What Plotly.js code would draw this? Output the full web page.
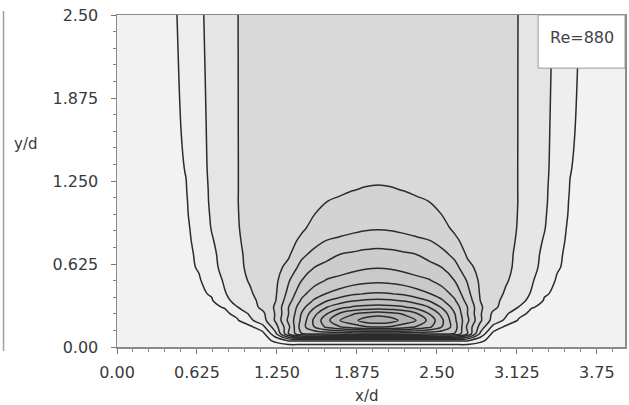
<!DOCTYPE html>
<html>
<head>
<meta charset="utf-8">
<script src="https://cdn.plot.ly/plotly-3.0.1.min.js"></script>
<style>html,body{margin:0;padding:0;background:#fff;}#chart{width:629px;height:405px;}</style>
</head>
<body>
<div id="chart"></div>
<script>
// grid positions (x/d, y/d)
const xNodes = [0,0.14,0.24,0.34,0.44,0.54,0.64,0.74,0.84,0.94,1.04,1.14,1.24,1.34,1.44,1.54,1.64,1.74,1.84,1.94,2.04,2.14,2.24,2.34,2.44,2.54,2.64,2.74,2.84,2.94,3.04,3.14,3.24,3.34,3.44,3.54,3.64,3.74,3.84,3.94,4.08];
const yNodes = [0,0.05,0.1,0.15,0.2,0.25,0.3,0.35,0.4,0.5,0.6,0.7,0.8,0.9,1.0,1.1,1.18,1.35,1.6,2.0,2.5];

// field values, one row per y/d
const zY000 = [0.3,0.3,0.3,0.3,0.3,0.3,0.3,0.3,0.3,0.3,0.3,0.3,0.3,0.3,0.3,0.3,0.3,0.3,0.3,0.3,0.3,0.3,0.3,0.3,0.3,0.3,0.3,0.3,0.3,0.3,0.3,0.3,0.3,0.3,0.3,0.3,0.3,0.3,0.3,0.3,0.3];
const zY005 = [0.4,0.4,0.4,0.4,0.4,0.4,0.4,0.41,0.42,0.43,0.45,0.5,1.3,2.15,2.2,2.2,2.2,2.2,2.2,2.2,2.2,2.2,2.2,2.2,2.2,2.2,2.2,2.15,1.3,0.5,0.45,0.43,0.42,0.41,0.4,0.4,0.4,0.4,0.4,0.4,0.4];
const zY010 = [0.44,0.44,0.45,0.45,0.46,0.47,0.48,0.49,0.5,0.52,0.55,0.7,2.8,5.98,7.95,8.2,8.3,8.4,8.45,8.5,8.5,8.5,8.45,8.4,8.3,8.2,7.95,5.98,2.8,0.7,0.55,0.52,0.5,0.49,0.48,0.47,0.46,0.45,0.45,0.44,0.44];
const zY015 = [0.46,0.47,0.48,0.49,0.5,0.51,0.53,0.55,0.58,0.62,0.75,1.7,3.6,5.75,8.5,9.98,11.2,11.9,12.5,12.85,12.95,12.85,12.5,11.9,11.2,9.98,8.5,5.75,3.6,1.7,0.75,0.62,0.58,0.55,0.53,0.51,0.5,0.49,0.48,0.47,0.46];
const zY020 = [0.48,0.5,0.52,0.54,0.56,0.58,0.61,0.65,0.7,0.9,1.8,2.6,4.15,6.2,8.2,10.2,11.7,12.98,13.6,14.5,14.8,14.5,13.6,12.98,11.7,10.2,8.2,6.2,4.15,2.6,1.8,0.9,0.7,0.65,0.61,0.58,0.56,0.54,0.52,0.5,0.48];
const zY025 = [0.5,0.52,0.55,0.57,0.6,0.63,0.67,0.72,0.8,1.25,2.15,2.8,4.1,5.98,8.02,9.7,10.98,12.15,12.9,13.35,13.6,13.35,12.9,12.15,10.98,9.7,8.02,5.98,4.1,2.8,2.15,1.25,0.8,0.72,0.67,0.63,0.6,0.57,0.55,0.52,0.5];
const zY030 = [0.51,0.54,0.57,0.61,0.65,0.7,0.76,0.85,1.05,1.98,2.55,3.25,4.15,5.98,7.6,8.88,9.98,10.65,11.1,11.3,11.4,11.3,11.1,10.65,9.98,8.88,7.6,5.98,4.15,3.25,2.55,1.98,1.05,0.85,0.76,0.7,0.65,0.61,0.57,0.54,0.51];
const zY035 = [0.52,0.55,0.58,0.62,0.67,0.72,0.8,0.92,1.75,2.3,2.72,3.3,3.98,5.6,7.1,8.1,8.93,9.45,9.9,10.12,10.2,10.12,9.9,9.45,8.93,8.1,7.1,5.6,3.98,3.3,2.72,2.3,1.75,0.92,0.8,0.72,0.67,0.62,0.58,0.55,0.52];
const zY040 = [0.52,0.55,0.59,0.63,0.68,0.74,0.85,1.08,1.93,2.4,2.85,3.5,3.9,5.3,6.7,7.5,8.05,8.45,8.85,9.05,9.1,9.05,8.85,8.45,8.05,7.5,6.7,5.3,3.9,3.5,2.85,2.4,1.93,1.08,0.85,0.74,0.68,0.63,0.59,0.55,0.52];
const zY050 = [0.52,0.56,0.6,0.64,0.69,0.75,0.9,1.5,2.1,2.6,3.1,3.55,3.8,4.9,5.98,6.6,7.08,7.3,7.52,7.72,7.8,7.72,7.52,7.3,7.08,6.6,5.98,4.9,3.8,3.55,3.1,2.6,2.1,1.5,0.9,0.75,0.69,0.64,0.6,0.56,0.52];
const zY060 = [0.52,0.56,0.6,0.65,0.7,0.78,1.08,1.78,2.22,2.72,3.25,3.55,3.72,4.25,5.35,5.99,6.26,6.5,6.72,6.88,6.94,6.88,6.72,6.5,6.26,5.99,5.35,4.25,3.72,3.55,3.25,2.72,2.22,1.78,1.08,0.78,0.7,0.65,0.6,0.56,0.52];
const zY070 = [0.52,0.56,0.6,0.66,0.72,0.8,1.15,1.82,2.3,2.78,3.28,3.52,3.66,3.86,4.7,5.3,5.7,5.99,6.12,6.25,6.31,6.25,6.12,5.99,5.7,5.3,4.7,3.86,3.66,3.52,3.28,2.78,2.3,1.82,1.15,0.8,0.72,0.66,0.6,0.56,0.52];
const zY080 = [0.52,0.56,0.61,0.67,0.74,0.82,1.27,1.92,2.42,2.88,3.3,3.5,3.64,3.82,4.1,4.6,5.04,5.2,5.35,5.5,5.58,5.5,5.35,5.2,5.04,4.6,4.1,3.82,3.64,3.5,3.3,2.88,2.42,1.92,1.27,0.82,0.74,0.67,0.61,0.56,0.52];
const zY090 = [0.53,0.57,0.62,0.68,0.76,0.85,1.38,2.05,2.55,2.95,3.25,3.47,3.62,3.74,3.9,4.14,4.36,4.55,4.72,4.84,4.88,4.84,4.72,4.55,4.36,4.14,3.9,3.74,3.62,3.47,3.25,2.95,2.55,2.05,1.38,0.85,0.76,0.68,0.62,0.57,0.53];
const zY100 = [0.53,0.57,0.62,0.69,0.78,0.9,1.5,2.1,2.57,2.97,3.24,3.44,3.57,3.68,3.82,3.99,4.15,4.3,4.45,4.56,4.6,4.56,4.45,4.3,4.15,3.99,3.82,3.68,3.57,3.44,3.24,2.97,2.57,2.1,1.5,0.9,0.78,0.69,0.62,0.57,0.53];
const zY110 = [0.53,0.57,0.62,0.7,0.79,0.93,1.57,2.14,2.59,2.98,3.24,3.43,3.55,3.64,3.74,3.86,3.99,4.1,4.2,4.27,4.3,4.27,4.2,4.1,3.99,3.86,3.74,3.64,3.55,3.43,3.24,2.98,2.59,2.14,1.57,0.93,0.79,0.7,0.62,0.57,0.53];
const zY118 = [0.54,0.58,0.63,0.71,0.8,0.97,1.6,2.15,2.6,2.98,3.22,3.4,3.48,3.54,3.6,3.68,3.77,3.88,3.99,4.04,4.06,4.04,3.99,3.88,3.77,3.68,3.6,3.54,3.48,3.4,3.22,2.98,2.6,2.15,1.6,0.97,0.8,0.71,0.63,0.58,0.54];
const zY135 = [0.53,0.57,0.63,0.72,0.83,1.03,1.68,2.18,2.6,2.98,3.22,3.39,3.46,3.51,3.55,3.59,3.64,3.69,3.74,3.78,3.8,3.78,3.74,3.69,3.64,3.59,3.55,3.51,3.46,3.39,3.22,2.98,2.6,2.18,1.68,1.03,0.83,0.72,0.63,0.57,0.53];
const zY160 = [0.54,0.58,0.64,0.73,0.85,1.09,1.72,2.2,2.6,2.98,3.24,3.4,3.48,3.52,3.55,3.57,3.59,3.61,3.63,3.64,3.65,3.64,3.63,3.61,3.59,3.57,3.55,3.52,3.48,3.4,3.24,2.98,2.6,2.2,1.72,1.09,0.85,0.73,0.64,0.58,0.54];
const zY200 = [0.54,0.58,0.64,0.74,0.88,1.15,1.78,2.22,2.62,2.98,3.25,3.4,3.48,3.52,3.55,3.55,3.55,3.55,3.55,3.55,3.55,3.55,3.55,3.55,3.55,3.55,3.55,3.52,3.48,3.4,3.25,2.98,2.62,2.22,1.78,1.15,0.88,0.74,0.64,0.58,0.54];
const zY250 = [0.55,0.6,0.65,0.75,0.9,1.25,1.84,2.26,2.63,2.98,3.3,3.45,3.5,3.5,3.5,3.5,3.5,3.5,3.5,3.5,3.5,3.5,3.5,3.5,3.5,3.5,3.5,3.5,3.5,3.45,3.3,2.98,2.63,2.26,1.84,1.25,0.9,0.75,0.65,0.6,0.55];

// tick labels
const xTickVals = [0,0.625,1.25,1.875,2.5,3.125,3.75];
const xTickText = ['0.00','0.625','1.250','1.875','2.50','3.125','3.75'];
const yTickVals = [0,0.625,1.25,1.875,2.5];
const yTickText = ['0.00','0.625','1.250','1.875','2.50'];

const zGrid = [zY000,zY005,zY010,zY015,zY020,zY025,zY030,zY035,zY040,zY050,zY060,zY070,zY080,zY090,zY100,zY110,zY118,zY135,zY160,zY200,zY250];

const fam = 'DejaVu Sans, Arial, sans-serif';
const tickFont = {family:fam, size:16, color:'#3a3a3a'};

const trace = {
  type:'contour', x:xNodes, y:yNodes, z:zGrid,
  zmin:0, zmax:15, zauto:false, showscale:false,
  contours:{start:1, end:14, size:1, coloring:'fill', showlines:true},
  line:{color:'#2b2b2b', width:1.5, smoothing:1},
  colorscale:[
    [0,'#f2f2f2'],[0.0333,'#f2f2f2'],[0.1,'#ebebeb'],[0.1667,'#e2e2e2'],[0.2333,'#d6d6d6'],
    [0.3,'#d2d2d2'],[0.3667,'#cfcfcf'],[0.4333,'#cccccc'],[0.5,'#c9c9c9'],[0.5667,'#c6c6c6'],
    [0.6333,'#c3c3c3'],[0.7,'#c0c0c0'],[0.7667,'#bcbcbc'],[0.8333,'#b9b9b9'],[0.9,'#b5b5b5'],
    [0.9667,'#b1b1b1'],[1,'#b1b1b1']],
  hoverinfo:'skip'
};

const axisCommon = {
  ticks:'outside', ticklen:5, tickcolor:'#777', tickwidth:1,
  showline:true, mirror:true, linecolor:'#8a8a8a', linewidth:1.5,
  showgrid:false, zeroline:false, tickfont:tickFont, tickmode:'array',
  minor:{ticks:'outside', ticklen:3, tickcolor:'#888', dtick:0.125, tick0:0, showgrid:false}
};

const layout = {
  width:629, height:405,
  margin:{l:117, r:4, t:15, b:58},
  paper_bgcolor:'#ffffff', plot_bgcolor:'#ffffff',
  showlegend:false,
  xaxis:Object.assign({}, axisCommon, {range:[0,3.97], tickvals:xTickVals, ticktext:xTickText, ticklabelstandoff:5}),
  yaxis:Object.assign({}, axisCommon, {range:[0,2.5], tickvals:yTickVals, ticktext:yTickText, ticklabelstandoff:9}),
  shapes:[
    {type:'rect', xref:'paper', yref:'paper', x0:0.829, x1:1, y0:0.84, y1:1, fillcolor:'#ffffff', line:{color:'#9a9a9a', width:1}, layer:'above'},
    {type:'line', xref:'paper', yref:'paper', x0:-0.2234, x1:-0.2234, y0:-0.012, y1:1.012, line:{color:'#a0a0a0', width:1.5}}
  ],
  annotations:[
    {text:'Re=880', xref:'paper', yref:'paper', x:0.915, y:0.931, xanchor:'center', yanchor:'middle', showarrow:false, font:{family:fam, size:16, color:'#444'}},
    {text:'y/d', xref:'paper', yref:'paper', x:-0.181, y:0.611, xanchor:'center', yanchor:'middle', showarrow:false, font:{family:fam, size:15, color:'#3a3a3a'}},
    {text:'x/d', xref:'paper', yref:'paper', x:0.492, y:-0.148, xanchor:'center', yanchor:'middle', showarrow:false, font:{family:fam, size:15, color:'#3a3a3a'}}
  ]
};

Plotly.newPlot('chart', [trace], layout, {displayModeBar:false, staticPlot:true});
</script>
</body>
</html>
